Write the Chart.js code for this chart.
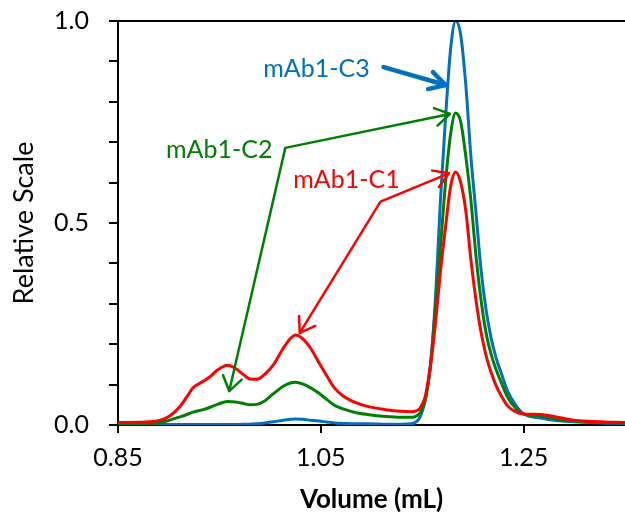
<!DOCTYPE html>
<html>
<head>
<meta charset="utf-8">
<script src="https://cdn.jsdelivr.net/npm/chart.js@4.4.1/dist/chart.umd.min.js"></script>
<style>
  html, body { margin: 0; padding: 0; background: #ffffff; overflow: hidden; }
  #wrap { width: 625px; height: 516px; position: relative; }
</style>
</head>
<body>
<div id="wrap"><canvas id="chart" width="625" height="516"></canvas></div>
<script>
// Elution volume (mL) shared by the three traces
const volume = [
  0.850, 0.882, 0.892, 0.901, 0.911, 0.918, 0.924, 0.934, 0.941, 0.948,
  0.958, 0.966, 0.974, 0.980, 0.987, 0.995, 1.003, 1.013, 1.020, 1.025,
  1.032, 1.040, 1.048, 1.057, 1.064, 1.072, 1.084, 1.096, 1.114, 1.129,
  1.139, 1.143, 1.148, 1.153, 1.158, 1.163, 1.168, 1.173, 1.178, 1.183,
  1.188, 1.193, 1.198, 1.203, 1.208, 1.213, 1.218, 1.223, 1.228, 1.234,
  1.242, 1.250, 1.267, 1.282, 1.300, 1.326, 1.350
];

// Relative detector response for each construct
const mAb1C1 = [
  0.006, 0.008, 0.012, 0.022, 0.045, 0.070, 0.092, 0.108, 0.120, 0.136,
  0.148, 0.140, 0.124, 0.114, 0.113, 0.126, 0.148, 0.190, 0.214, 0.223,
  0.214, 0.190, 0.155, 0.117, 0.090, 0.072, 0.056, 0.046, 0.038, 0.034,
  0.033, 0.034, 0.042, 0.070, 0.144, 0.250, 0.380, 0.490, 0.590, 0.626,
  0.600, 0.530, 0.410, 0.310, 0.230, 0.172, 0.130, 0.097, 0.072, 0.048,
  0.033, 0.027, 0.026, 0.020, 0.012, 0.008, 0.006
];
const mAb1C2 = [
  0.002, 0.003, 0.006, 0.012, 0.020, 0.026, 0.032, 0.038, 0.044, 0.051,
  0.058, 0.057, 0.053, 0.050, 0.051, 0.060, 0.077, 0.096, 0.104, 0.106,
  0.102, 0.092, 0.079, 0.061, 0.048, 0.040, 0.031, 0.026, 0.021, 0.019,
  0.019, 0.021, 0.030, 0.062, 0.144, 0.290, 0.440, 0.600, 0.720, 0.772,
  0.750, 0.665, 0.557, 0.420, 0.310, 0.228, 0.175, 0.136, 0.105, 0.070,
  0.042, 0.027, 0.022, 0.015, 0.010, 0.007, 0.005
];
const mAb1C3 = [
  0.001, 0.001, 0.001, 0.001, 0.001, 0.001, 0.001, 0.001, 0.001, 0.001,
  0.001, 0.001, 0.002, 0.002, 0.003, 0.005, 0.008, 0.012, 0.014, 0.015,
  0.014, 0.012, 0.010, 0.007, 0.005, 0.004, 0.003, 0.003, 0.002, 0.002,
  0.003, 0.006, 0.020, 0.062, 0.144, 0.309, 0.557, 0.760, 0.930, 1.000,
  0.965, 0.842, 0.665, 0.527, 0.385, 0.285, 0.215, 0.165, 0.128, 0.085,
  0.050, 0.028, 0.017, 0.011, 0.008, 0.005, 0.004
];

const seriesNames = ['mAb1-C1', 'mAb1-C2', 'mAb1-C3'];
const seriesColors = ['#ff0000', '#008000', '#0070c0'];
const xTicks = [0.85, 1.05, 1.25];

// Callout text anchors (volume, relative scale) and arrow paths in data units
const labelAnchors = [[1.0753, 0.587], [0.9498, 0.661], [1.0457, 0.861]];
const arrowPaths = [
  [[1.1764, 0.623], [1.1089, 0.553], [1.0293, 0.228]],
  [[1.1774, 0.770], [1.0150, 0.686], [0.9597, 0.084]],
  [[1.1119, 0.886], [1.1731, 0.8416]]
];

const FONT = 'Lato, "Open Sans", "DejaVu Sans", sans-serif';

function toPoints(ys) {
  return volume.map((v, i) => ({ x: v, y: ys[i] }));
}

// Frame line along the top of the plot area
const topFrame = {
  id: 'topFrame',
  afterDraw(chart) {
    const { ctx, chartArea } = chart;
    ctx.save();
    ctx.strokeStyle = '#000';
    ctx.lineWidth = 2;
    ctx.beginPath();
    ctx.moveTo(chartArea.left - 1, chartArea.top);
    ctx.lineTo(chartArea.right + 2, chartArea.top);
    ctx.stroke();
    ctx.restore();
  }
};

function arrowHead(ctx, from, tip, len, spread) {
  const a = Math.atan2(tip.y - from.y, tip.x - from.x) + Math.PI;
  ctx.beginPath();
  ctx.moveTo(tip.x + len * Math.cos(a - spread), tip.y + len * Math.sin(a - spread));
  ctx.lineTo(tip.x, tip.y);
  ctx.lineTo(tip.x + len * Math.cos(a + spread), tip.y + len * Math.sin(a + spread));
  ctx.stroke();
}

// Series callouts: coloured names with arrows pointing at the peaks
const callouts = {
  id: 'callouts',
  afterDatasetsDraw(chart) {
    const { ctx, scales } = chart;
    const px = p => ({ x: scales.x.getPixelForValue(p[0]), y: scales.y.getPixelForValue(p[1]) });
    ctx.save();
    ctx.lineCap = 'round';
    ctx.lineJoin = 'round';
    seriesNames.forEach((name, i) => {
      const color = seriesColors[i];
      const pts = arrowPaths[i].map(px);
      const thick = pts.length === 2;
      ctx.strokeStyle = color;
      ctx.lineWidth = thick ? 4.5 : 2.5;
      ctx.beginPath();
      pts.forEach((p, k) => (k ? ctx.lineTo(p.x, p.y) : ctx.moveTo(p.x, p.y)));
      ctx.stroke();
      if (thick) {
        arrowHead(ctx, pts[0], pts[1], 18, 0.51);
      } else {
        arrowHead(ctx, pts[1], pts[0], 17, 0.55);
        arrowHead(ctx, pts[pts.length - 2], pts[pts.length - 1], 17, 0.6);
      }
      const a = px(labelAnchors[i]);
      ctx.fillStyle = color;
      ctx.font = '25px ' + FONT;
      ctx.textAlign = 'center';
      ctx.textBaseline = 'alphabetic';
      ctx.fillText(name, a.x, a.y);
    });
    ctx.restore();
  }
};

const datasets = [mAb1C1, mAb1C2, mAb1C3].map((ys, i) => ({
  label: seriesNames[i],
  data: toPoints(ys),
  borderColor: seriesColors[i],
  backgroundColor: seriesColors[i],
  borderWidth: 3,
  pointRadius: 0,
  fill: false,
  cubicInterpolationMode: 'monotone'
}));

new Chart(document.getElementById('chart'), {
  type: 'line',
  data: { datasets },
  plugins: [topFrame, callouts],
  options: {
    responsive: false,
    animation: false,
    devicePixelRatio: 1,
    layout: { padding: { top: 21, right: 0, bottom: 0, left: 0 } },
    plugins: { legend: { display: false }, tooltip: { enabled: false } },
    scales: {
      x: {
        type: 'linear',
        min: 0.85,
        max: 1.35,
        afterBuildTicks(scale) { scale.ticks = xTicks.map(v => ({ value: v })); },
        afterFit(scale) {
          scale.height = 91;
          scale.paddingLeft = 0;
          scale.paddingRight = 0;
        },
        grid: { drawOnChartArea: false, drawTicks: true, tickLength: 8, color: '#000', lineWidth: 2 },
        border: { display: true, color: '#000', width: 2 },
        ticks: {
          color: '#000',
          font: { family: FONT, size: 25 },
          padding: 10,
          maxRotation: 0,
          autoSkip: false,
          callback: v => Number(v).toFixed(2)
        },
        title: {
          display: true,
          text: 'Volume (mL)',
          color: '#000',
          font: { family: FONT, size: 26, weight: 'bold' },
          padding: { top: 0, bottom: 1 }
        }
      },
      y: {
        min: 0,
        max: 1,
        afterFit(scale) {
          scale.width = 118;
          scale.paddingTop = 0;
          scale.paddingBottom = 0;
        },
        grid: { drawOnChartArea: false, drawTicks: true, tickLength: 9, color: '#000', lineWidth: 2 },
        border: { display: true, color: '#000', width: 2 },
        ticks: {
          stepSize: 0.1,
          color: '#000',
          font: { family: FONT, size: 25 },
          padding: 20,
          autoSkip: false,
          callback: v => (Math.abs(v * 2 - Math.round(v * 2)) < 1e-6 ? Number(v).toFixed(1) : '')
        },
        title: {
          display: true,
          text: 'Relative Scale',
          color: '#000',
          font: { family: FONT, size: 27 },
          padding: { top: 8, bottom: 0 }
        }
      }
    }
  }
});
</script>
</body>
</html>
